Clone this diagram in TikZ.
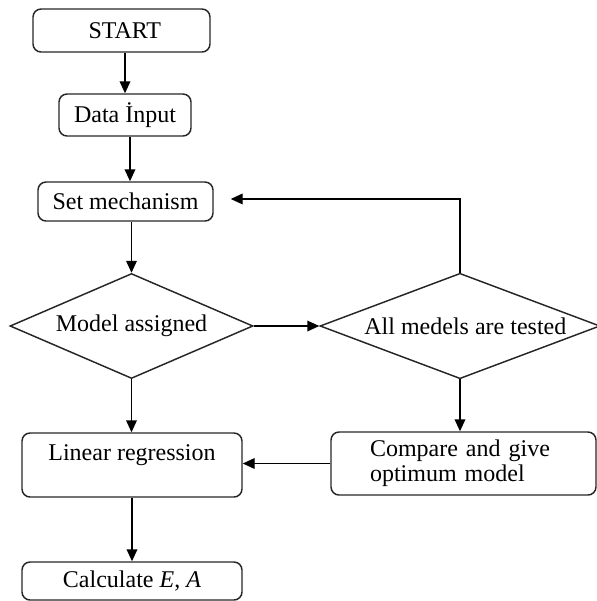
\documentclass[tikz,border=0pt]{standalone}
\usepackage{fontspec}
\setmainfont{Liberation Serif}
\usetikzlibrary{shapes.geometric,arrows.meta}
\tikzset{
  box/.style={draw=black!85, line width=1.1pt, rounded corners=6pt, inner sep=0pt, align=center},
  dia/.style={draw=black!85, line width=1.1pt, diamond, aspect=2.4, inner sep=0pt, align=center},
  conn/.style={draw=black, line width=1.1pt, -{Triangle[length=9pt,width=8pt]}},
  every node/.style={font=\fontsize{18}{19}\selectfont}
}
\begin{document}
\begin{tikzpicture}[x=0.75pt,y=-0.75pt]
\useasboundingbox (0,0) rectangle (597,601);
\node[box, minimum width=132.75pt, minimum height=32.25pt] (start) at (121.5,30.5) {\hspace*{5pt}START};
\node[box, minimum width=99pt, minimum height=31.5pt] (data) at (125,115) {Data İnput};
\node[box, minimum width=131.25pt, minimum height=29.25pt] (set) at (125.5,201.5) {Set mechanism};
\node[dia, minimum width=182.25pt, minimum height=78.75pt] (d1) at (131.5,326) {Model assigned};
\node[dia, minimum width=210pt, minimum height=78.75pt] (d2) at (460,326) {\hspace*{8pt}All medels are tested};
\node[box, minimum width=165pt, minimum height=48pt] (lr) at (132,465) {Linear regression\\\mbox{}};
\node[box, minimum width=165pt, minimum height=28.5pt] (calc) at (132,581) {Calculate \textit{E}, \textit{A}};
\node[box, align=left, inner xsep=29.25pt, text width=140.25pt, minimum height=47.25pt] (cmp) at (463.5,463.5) {Compare and give\\optimum model};

\draw[conn] (start.south -| data.north) -- (data.north);
\draw[conn] ([xshift=3.75pt]data.south) -- ([xshift=3.75pt]data.south |- set.north);
\draw[conn] (set.south -| d1.north) -- (d1.north);
\draw[conn] (d1.east) -- (d2.west);
\draw[conn] (d2.north) |- ([xshift=12.75pt,yshift=1.9pt]set.east);
\draw[conn] (d1.south) -- (d1.south |- lr.north);
\draw[conn] (d2.south) -- (d2.south |- cmp.north);
\draw[conn] (cmp.west) -- (cmp.west -| lr.east);
\draw[conn] (lr.south) -- (calc.north);
\end{tikzpicture}
\end{document}
